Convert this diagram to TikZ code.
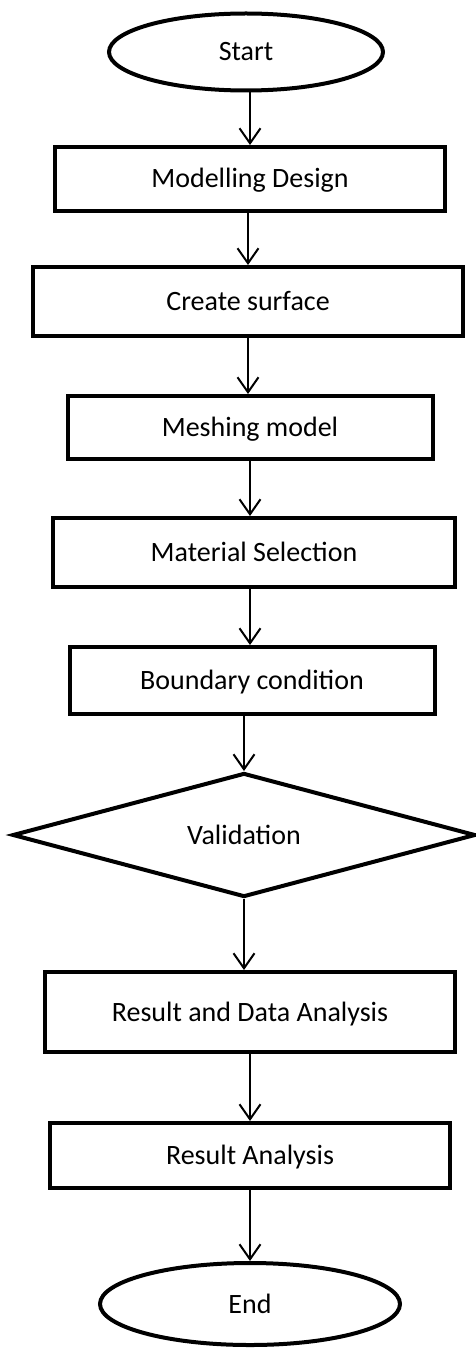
\documentclass[tikz,border=0pt]{standalone}
\usepackage{fontspec}
\setmainfont{Carlito}
\usetikzlibrary{shapes.geometric,arrows.meta}
\begin{document}
\begin{tikzpicture}[x=1pt,y=-1pt,
  every node/.style={font=\fontsize{28}{34}\selectfont, inner sep=0pt},
  term/.style={ellipse, draw, line width=4pt, text height=18pt, text depth=0pt},
  proc/.style={rectangle, draw, line width=4pt, text height=18pt, text depth=0pt},
  decide/.style={diamond, draw, line width=4pt, aspect=3.7, text height=18pt, text depth=0pt},
  arr/.style={line width=2pt, -{Straight Barb[length=15pt,width=21pt,line width=2pt]}}]
\useasboundingbox (0,0) rectangle (476,1348);
% terminals, process boxes and the decision
\node[term, minimum width=274pt, minimum height=77pt] (start) at (246,52) {Start};
\node[proc, minimum width=390pt, minimum height=64pt] (model) at (250,179) {Modelling Design};
\node[proc, minimum width=430pt, minimum height=69pt] (surf) at (248,301.5) {Create surface};
\node[proc, minimum width=365pt, minimum height=63pt] (mesh) at (250,427.5) {Meshing model};
\node[proc, minimum width=402pt, minimum height=69pt] (mat) at (254,552.5) {Material Selection};
\node[proc, minimum width=365pt, minimum height=67pt] (bound) at (252,680.5) {Boundary condition};
\node[decide, minimum width=463pt, minimum height=124pt] (valid) at (244,835) {Validation};
\node[proc, minimum width=410pt, minimum height=80pt] (rda) at (250,1012) {Result and Data Analysis};
\node[proc, minimum width=400pt, minimum height=65pt] (ra) at (250,1155.5) {Result Analysis};
\node[term, minimum width=300pt, minimum height=82pt] (end) at (250,1304) {End};
% connectors
\draw[arr] (start.south -| model) -- (model.north);
\draw[arr] (model.south -| surf) -- (surf.north);
\draw[arr] (surf.south) -- (surf.south |- mesh.north);
\draw[arr] (mesh.south) -- (mesh.south |- mat.north);
\draw[arr] (mat.south -| mesh) -- (mesh |- bound.north);
\draw[arr] (bound.south -| valid) -- (valid.north);
\draw[arr] (valid.south) -- (valid.south |- rda.north);
\draw[arr] (rda.south) -- (rda.south |- ra.north);
\draw[arr] (ra.south -| end) -- (end.north);
\end{tikzpicture}
\end{document}
